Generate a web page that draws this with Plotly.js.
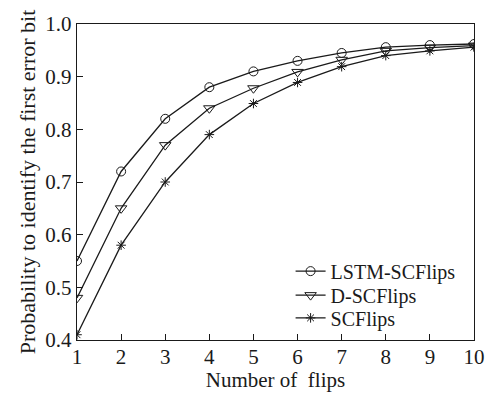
<!DOCTYPE html>
<html>
<head>
<meta charset="utf-8">
<script src="https://cdn.plot.ly/plotly-3.0.1.min.js"></script>
<style>html,body{margin:0;padding:0;background:#fff;}#chart{width:491px;height:393px;}</style>
</head>
<body>
<div id="chart"></div>
<script>
const flips = [1, 2, 3, 4, 5, 6, 7, 8, 9, 10];
const lstmScflips = [0.55, 0.72, 0.82, 0.88, 0.91, 0.93, 0.945, 0.956, 0.96, 0.962];
const dScflips = [0.48, 0.65, 0.77, 0.84, 0.878, 0.909, 0.932, 0.949, 0.955, 0.959];
const scflips = [0.41, 0.58, 0.70, 0.79, 0.849, 0.889, 0.919, 0.940, 0.949, 0.956];
const seriesNames = ["LSTM-SCFlips", "D-SCFlips", "SCFlips"];

const font = "'Liberation Serif', 'DejaVu Serif', serif";
const col = "#1a1a1a";
function tr(y, name, sym, size, leg) {
  return {
    x: flips, y: y, name: name, type: "scatter", mode: "lines+markers", legend: leg,
    line: {color: col, width: 1.3},
    marker: {symbol: sym, size: size, color: col, line: {color: col, width: 1}}
  };
}
const data = [
  tr(lstmScflips, seriesNames[0], "circle-open", 9, "legend"),
  tr(dScflips, seriesNames[1], "triangle-down-open", 10, "legend2"),
  tr(scflips, seriesNames[2], "asterisk-open", 8, "legend3")
];
function leg(y) {
  return {x: 0.538, y: y, xanchor: "left", yanchor: "middle", bgcolor: "rgba(0,0,0,0)",
          font: {family: font, size: 20, color: col}, itemwidth: 30};
}
const layout = {
  width: 491, height: 393,
  margin: {l: 77, r: 17, t: 24, b: 53},
  paper_bgcolor: "#fff", plot_bgcolor: "#fff",
  font: {family: font, size: 20, color: col},
  showlegend: true,
  legend: leg(0.218), legend2: leg(0.142), legend3: leg(0.070),
  xaxis: {
    range: [1, 10], tickvals: flips, ticks: "inside", ticklen: 6, tickcolor: col,
    showline: true, linecolor: col, linewidth: 1.3, mirror: true, showgrid: false, zeroline: false,
    tickfont: {family: font, size: 21, color: col}, ticklabelstandoff: -3,
    title: {text: "Number of  flips", font: {family: font, size: 21, color: col}, standoff: 3}
  },
  yaxis: {
    range: [0.4, 1.0], dtick: 0.1, tick0: 0.4, tickformat: ".1f", ticks: "inside", ticklen: 6, tickcolor: col,
    showline: true, linecolor: col, linewidth: 1.3, mirror: true, showgrid: false, zeroline: false,
    tickfont: {family: font, size: 21, color: col},
    title: {text: "Probability to identify the first error bit", font: {family: font, size: 22, color: col}, standoff: 3}
  }
};
Plotly.newPlot("chart", data, layout, {displayModeBar: false, staticPlot: true});
</script>
</body>
</html>
